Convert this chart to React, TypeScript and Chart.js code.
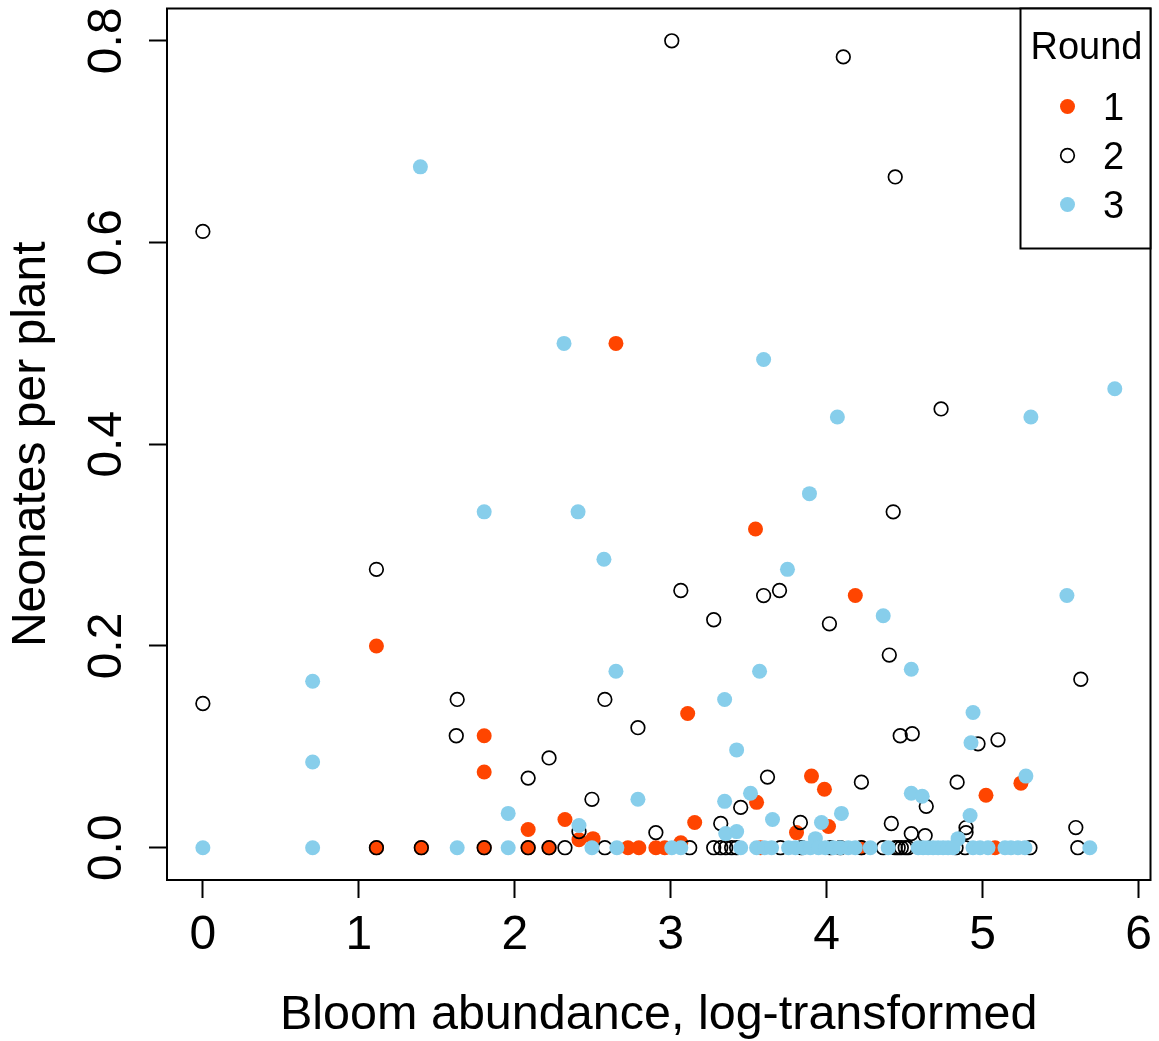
import React, { useEffect, useRef } from "react";
import { Chart, registerables } from "chart.js";

Chart.register(...registerables);

// Round 1 (filled orange-red)
const round1X = [
  2.649, 3.544, 4.184, 1.113, 3.109, 1.804, 1.804, 3.903, 3.986, 5.022,
  5.246, 3.551, 2.322, 2.086, 3.154, 4.012, 3.807, 2.412, 2.502, 3.065,
  1.113, 1.401, 1.804, 2.086, 2.220, 2.726, 2.796, 2.905, 2.962, 3.576,
  4.223, 5.080,
];
const round1Y = [
  0.5, 0.316, 0.25, 0.2, 0.133, 0.111, 0.075, 0.071, 0.058, 0.052,
  0.064, 0.045, 0.028, 0.018, 0.025, 0.021, 0.015, 0.008, 0.009, 0.005,
  0, 0, 0, 0, 0, 0, 0, 0, 0, 0,
  0, 0,
];

// Round 2 (open black circles)
const round2X = [
  3.007, 4.107, 0, 4.440, 4.734, 4.427, 1.113, 3.065, 3.596, 3.698,
  3.276, 4.018, 4.402, 5.630, 0, 1.631, 2.578, 1.625, 2.790, 2.220,
  2.086, 4.472, 4.549, 5.099, 4.971, 3.621, 4.223, 4.837, 2.495, 3.449,
  3.832, 3.321, 4.415, 4.639, 5.598, 2.905, 2.412, 4.543, 4.632, 4.894,
  4.894,
  1.113, 1.401, 1.804, 2.086, 2.220, 2.322, 2.578, 3.122, 3.276, 3.321,
  3.353, 3.391, 3.423, 3.704, 3.839, 4.024, 4.088, 4.223, 4.363, 4.440,
  4.459, 4.479, 4.504, 4.523, 4.830, 4.888, 5.304, 5.611,
];
const round2Y = [
  0.8, 0.784, 0.611, 0.665, 0.435, 0.333, 0.276, 0.255, 0.25, 0.255,
  0.226, 0.222, 0.191, 0.167, 0.143, 0.147, 0.147, 0.111, 0.119, 0.089,
  0.069, 0.111, 0.113, 0.107, 0.103, 0.07, 0.065, 0.065, 0.048, 0.04,
  0.025, 0.024, 0.024, 0.041, 0.02, 0.015, 0.016, 0.014, 0.012, 0.02,
  0.015,
  0, 0, 0, 0, 0, 0, 0, 0, 0, 0,
  0, 0, 0, 0, 0, 0, 0, 0, 0, 0,
  0, 0, 0, 0, 0, 0, 0, 0,
];

// Round 3 (filled sky blue)
const round3X = [
  1.395, 2.316, 3.596, 5.848, 4.069, 5.310, 3.890, 1.804, 2.406, 2.572,
  3.749, 4.363, 5.541, 0.704, 2.649, 3.570, 4.543, 3.346, 4.939, 4.926,
  0.704, 3.423, 5.278, 1.958, 2.790, 3.346, 3.512, 4.543, 4.613, 4.095,
  4.920, 2.412, 3.353, 3.423, 3.653, 3.967, 3.928, 4.843,
  0, 0.704, 1.631, 1.958, 2.495, 2.655, 3.007, 3.065, 3.449, 3.551,
  3.602, 3.647, 3.756, 3.800, 3.852, 3.896, 3.948, 3.992, 4.043, 4.088,
  4.139, 4.184, 4.280, 4.395, 4.587, 4.619, 4.651, 4.683, 4.715, 4.747,
  4.779, 4.811, 4.939, 4.984, 5.035, 5.144, 5.182, 5.227, 5.272, 5.688,
];
const round3Y = [
  0.675, 0.5, 0.484, 0.455, 0.427, 0.427, 0.351, 0.333, 0.333, 0.286,
  0.276, 0.23, 0.25, 0.165, 0.175, 0.175, 0.177, 0.147, 0.134, 0.104,
  0.085, 0.097, 0.071, 0.034, 0.048, 0.046, 0.054, 0.054, 0.051, 0.034,
  0.032, 0.022, 0.014, 0.016, 0.028, 0.025, 0.009, 0.009,
  0, 0, 0, 0, 0, 0, 0, 0, 0, 0,
  0, 0, 0, 0, 0, 0, 0, 0, 0, 0,
  0, 0, 0, 0, 0, 0, 0, 0, 0, 0,
  0, 0, 0, 0, 0, 0, 0, 0, 0, 0,
];

const roundLabels = ["1", "2", "3"];
const legendTitle = "Round";
const xTitle = "Bloom abundance, log-transformed";
const yTitle = "Neonates per plant";
const xTicks = [0, 1, 2, 3, 4, 5, 6];
const xTickLabels = ["0", "1", "2", "3", "4", "5", "6"];
const yTicks = [0, 0.2, 0.4, 0.6, 0.8];
const yTickLabels = ["0.0", "0.2", "0.4", "0.6", "0.8"];
const xLimits = [-0.23, 6.077];
const yLimits = [-0.032, 0.832];

const FONT = "'Liberation Sans', Arial, Helvetica, sans-serif";
const ORANGE = "#FF4500";
const SKY = "#87CEEB";

const toPoints = (xs: number[], ys: number[]) => xs.map((x, i) => ({ x, y: ys[i] }));

export default function App() {
  const ref = useRef<HTMLCanvasElement>(null);

  useEffect(() => {
    const canvas = ref.current;
    if (!canvas) return;

    const plotBox = {
      id: "plotBox",
      afterDatasetsDraw(chart: any) {
        const { ctx, chartArea: a } = chart;
        ctx.save();
        ctx.strokeStyle = "#000";
        ctx.lineWidth = 2;
        ctx.strokeRect(a.left, a.top, a.right - a.left, a.bottom - a.top);
        ctx.restore();
      },
    };

    const roundLegend = {
      id: "roundLegend",
      afterDraw(chart: any) {
        const { ctx, chartArea: a } = chart;
        const boxW = 130;
        const boxH = 240;
        const left = a.right - boxW;
        ctx.save();
        ctx.fillStyle = "#fff";
        ctx.fillRect(left, a.top, boxW, boxH);
        ctx.strokeStyle = "#000";
        ctx.lineWidth = 2;
        ctx.strokeRect(left, a.top, boxW, boxH);
        ctx.fillStyle = "#000";
        ctx.font = `38px ${FONT}`;
        ctx.textAlign = "center";
        ctx.textBaseline = "alphabetic";
        ctx.fillText(legendTitle, left + boxW / 2 + 1, a.top + 50);
        chart.data.datasets.forEach((ds: any, i: number) => {
          const cy = a.top + 98 + i * 49;
          const cx = a.right - 83;
          ctx.beginPath();
          ctx.arc(cx, cy, ds.pointRadius, 0, Math.PI * 2);
          if (ds.pointBorderWidth > 0) {
            ctx.lineWidth = ds.pointBorderWidth;
            ctx.strokeStyle = ds.pointBorderColor;
            ctx.stroke();
          } else {
            ctx.fillStyle = ds.pointBackgroundColor;
            ctx.fill();
          }
          ctx.fillStyle = "#000";
          ctx.fillText(ds.label, a.right - 37, cy + 13);
        });
        ctx.restore();
      },
    };

    const chart = new Chart(canvas, {
      type: "scatter",
      data: {
        datasets: [
          {
            label: roundLabels[0],
            data: toPoints(round1X, round1Y),
            pointRadius: 7.5,
            pointBackgroundColor: ORANGE,
            pointBorderColor: ORANGE,
            pointBorderWidth: 0,
            order: 3,
          },
          {
            label: roundLabels[1],
            data: toPoints(round2X, round2Y),
            pointRadius: 6.8,
            pointBackgroundColor: "rgba(0,0,0,0)",
            pointBorderColor: "#000",
            pointBorderWidth: 1.7,
            order: 2,
          },
          {
            label: roundLabels[2],
            data: toPoints(round3X, round3Y),
            pointRadius: 7.5,
            pointBackgroundColor: SKY,
            pointBorderColor: SKY,
            pointBorderWidth: 0,
            order: 1,
          },
        ] as any,
      },
      options: {
        responsive: false,
        animation: false,
        devicePixelRatio: 1,
        layout: { padding: { top: 8, right: 6, left: 0, bottom: 0 } },
        plugins: {
          legend: { display: false },
          tooltip: { enabled: false },
        },
        scales: {
          x: {
            type: "linear",
            min: xLimits[0],
            max: xLimits[1],
            afterBuildTicks: (s: any) => {
              s.ticks = xTicks.map((v) => ({ value: v }));
            },
            afterFit: (s: any) => {
              s.height = 161;
              s.paddingLeft = 0;
              s.paddingRight = 0;
            },
            border: { display: false },
            grid: {
              drawOnChartArea: false,
              drawTicks: true,
              tickLength: 18,
              tickWidth: 2,
              tickColor: "#000",
            },
            ticks: {
              color: "#000",
              font: { family: FONT, size: 48 },
              padding: 9,
              maxRotation: 0,
              minRotation: 0,
              callback: (v: any) => xTickLabels[xTicks.indexOf(v)] ?? "",
            },
            title: {
              display: true,
              text: xTitle,
              color: "#000",
              font: { family: FONT, size: 48.5, lineHeight: 1 },
              padding: { top: 0, bottom: 1 },
            },
          },
          y: {
            type: "linear",
            min: yLimits[0],
            max: yLimits[1],
            afterBuildTicks: (s: any) => {
              s.ticks = yTicks.map((v) => ({ value: v }));
            },
            afterFit: (s: any) => {
              s.width = 167;
              s.paddingTop = 0;
              s.paddingBottom = 0;
            },
            border: { display: false },
            grid: {
              drawOnChartArea: false,
              drawTicks: true,
              tickLength: 18,
              tickWidth: 2,
              tickColor: "#000",
            },
            ticks: {
              color: "#000",
              font: { family: FONT, size: 48 },
              padding: 8,
              minRotation: 90,
              maxRotation: 90,
              crossAlign: "center",
              callback: (v: any) => yTickLabels[yTicks.indexOf(v)] ?? "",
            },
            title: {
              display: true,
              text: yTitle,
              color: "#000",
              font: { family: FONT, size: 48, lineHeight: 1.2 },
              padding: { top: 2.6, bottom: 0 },
            },
          },
        },
      },
      plugins: [plotBox, roundLegend],
    });

    return () => chart.destroy();
  }, []);

  return (
    <div style={{ position: "absolute", left: 0, top: 0, width: 1159, height: 1041, background: "#fff" }}>
      <canvas ref={ref} width={1159} height={1041} style={{ display: "block" }} />
    </div>
  );
}
